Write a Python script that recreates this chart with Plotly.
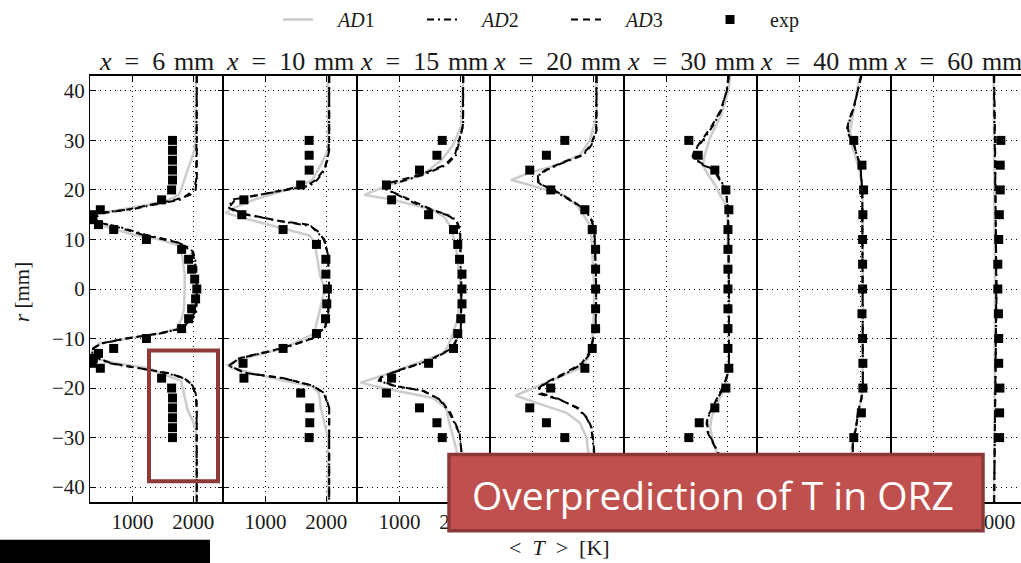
import plotly.graph_objects as go

# ---------------- data ----------------
positions = ["6", "10", "15", "20", "30", "40", "60"]
x_ticks = [1000, 2000]
y_ticks = [-40, -30, -20, -10, 0, 10, 20, 30, 40]

# x = 6 mm
AD1_6_r = [43, 30, 28, 26, 23, 20, 19, 18, 17, 16, 15.3, 14.8, 14, 13, 11, 10, 8.7, 6, 3, 0, -4, -6, -8, -9, -10, -11, -12.5, -14, -15, -16, -17.5, -18.5, -21, -24.5, -26.5, -28.5, -43]
AD1_6_T = [2045, 2040, 2020, 1960, 1880, 1800, 1760, 1600, 1250, 800, 450, 340, 380, 450, 1000, 1450, 1780, 1830, 1860, 1860, 1850, 1810, 1727, 1450, 900, 450, 340, 330, 730, 1280, 1560, 1800, 1850, 1910, 1990, 2045, 2050]
AD2_6_r = [43, 25, 22, 20.5, 19.5, 18.5, 18, 17, 16.1, 15.4, 14.5, 13.5, 12.5, 11, 10, 9.5, 8.5, 7.5, 5, 0, -5, -6, -7, -8, -9, -10, -11, -12, -13.5, -15, -16, -17, -17.8, -18.5, -19.5, -20.5, -22, -43]
AD2_6_T = [2060, 2060, 2050, 2020, 1960, 1850, 1780, 1350, 1000, 450, 380, 420, 800, 1200, 1550, 1730, 1900, 2000, 2050, 2060, 2050, 1990, 1900, 1800, 1450, 900, 500, 340, 340, 620, 1110, 1560, 1800, 1900, 1990, 2030, 2055, 2060]
AD3_6_r = [43, 22, 20, 19, 18, 17, 16, 15.3, 14.5, 13.5, 12.5, 11, 10, 9.5, 8.5, 7, 4, 0, -4, -6, -8, -9, -10, -11, -12, -13.5, -15, -16, -17, -18, -19, -21, -24, -43]
AD3_6_T = [2060, 2060, 2040, 1950, 1700, 1300, 900, 500, 400, 420, 750, 1150, 1500, 1700, 1880, 2000, 2050, 2060, 2050, 1975, 1800, 1420, 880, 480, 350, 350, 650, 1150, 1600, 1850, 1950, 2040, 2060, 2060]
exp_6_r = [30, 28, 26, 24, 22, 20, 18, 16, 15, 14, 13, 12, 10, 8, 6, 4, 2, 0, -2, -4, -6, -8, -10, -12, -13, -14, -15, -16, -18, -20, -22, -24, -26, -28, -30]
exp_6_T = [1660, 1660, 1660, 1660, 1660, 1645, 1480, 470, 340, 330, 440, 690, 1230, 1810, 1925, 1975, 2025, 2060, 2040, 1975, 1925, 1810, 1230, 690, 440, 355, 340, 470, 1480, 1645, 1660, 1660, 1660, 1660, 1660]

# x = 10 mm
AD1_10_r = [43, 28, 25, 22, 21, 20, 18, 16.5, 15.4, 14.4, 13, 12.1, 10.8, 9.4, 6, 2.7, 0, -5, -9, -10.5, -12, -14, -15.3, -16, -17, -18.5, -19.7, -21, -24, -27, -30, -43]
AD1_10_T = [2030, 2030, 1910, 1770, 1600, 1350, 810, 500, 340, 610, 1050, 1290, 1730, 1810, 1860, 1900, 1980, 1880, 1800, 1550, 1290, 650, 380, 450, 800, 1290, 1770, 1880, 1910, 1970, 2030, 2030]
AD2_10_r = [43, 30, 27, 24, 22, 20.8, 18.1, 16.5, 15.3, 13.6, 12.7, 11.2, 10, 7, 0, -6, -8, -10, -12, -14, -15.5, -17, -18, -19.5, -21, -24, -43]
AD2_10_T = [2050, 2050, 2030, 1975, 1850, 1720, 470, 380, 560, 1290, 1750, 1880, 1970, 2030, 2050, 2030, 1970, 1770, 1290, 560, 400, 670, 1290, 1770, 1970, 2050, 2050]
AD3_10_r = [43, 28, 26, 24, 22, 21, 19.5, 18, 16.5, 15.3, 13.7, 13, 11.5, 10, 7, 0, -6, -8, -10, -12, -14, -15.5, -17, -18, -19.5, -21, -24, -43]
AD3_10_T = [2050, 2050, 2020, 1960, 1830, 1700, 1100, 500, 400, 600, 1250, 1700, 1880, 1960, 2030, 2050, 2030, 1960, 1770, 1250, 560, 400, 700, 1300, 1780, 1960, 2050, 2050]
exp_10_r = [30, 27, 24, 21, 18, 15, 12, 9, 6, 3, 0, -3, -6, -9, -12, -15, -18, -21, -24, -27, -30]
exp_10_T = [1720, 1720, 1720, 1580, 645, 610, 1290, 1840, 1995, 1995, 2020, 2010, 1990, 1840, 1290, 630, 645, 1580, 1730, 1730, 1720]

# x = 15 mm
AD1_15_r = [43, 33, 29, 26, 23, 20.8, 19, 18, 16, 14.5, 13, 11, 9, 0, -6, -9, -11.5, -13, -15, -17, -18.9, -20, -22, -24, -27, -32, -36, -43]
AD1_15_T = [2050, 2020, 1880, 1690, 1380, 785, 420, 890, 1550, 1740, 1820, 1880, 1930, 2010, 1960, 1880, 1800, 1720, 1275, 835, 360, 720, 1550, 1770, 1820, 1930, 2000, 2050]
AD2_15_r = [43, 33, 30, 27, 25, 23, 21, 20, 19.5, 17.5, 16, 15, 14, 12, 0, -8.5, -11.9, -14.5, -16.4, -17.9, -18.5, -19.5, -20.5, -22.2, -24.9, -29.2, -35, -43]
AD2_15_T = [2050, 2050, 1990, 1930, 1770, 1380, 830, 790, 890, 1220, 1500, 1770, 1930, 1990, 2020, 2010, 1880, 1500, 1000, 690, 660, 890, 1380, 1650, 1820, 1990, 2040, 2050]
AD3_15_r = [43, 33, 30, 27, 25, 23, 21.3, 20.3, 19.5, 17.5, 16, 15, 13.5, 12, 0, -8.5, -12, -14.5, -16.5, -17.8, -18.6, -19.6, -20.6, -22.4, -25, -29, -35, -43]
AD3_15_T = [2050, 2045, 1980, 1910, 1740, 1330, 800, 760, 900, 1260, 1540, 1790, 1950, 2000, 2020, 2015, 1860, 1470, 960, 700, 690, 940, 1400, 1680, 1840, 1990, 2040, 2050]
exp_15_r = [30, 27, 24, 21, 18, 15, 12, 9, 6, 3, 0, -3, -6, -9, -12, -15, -18, -21, -24, -27, -30]
exp_15_T = [1705, 1617, 1330, 785, 870, 1480, 1890, 1960, 1990, 2030, 2030, 2030, 2010, 1960, 1890, 1480, 870, 785, 1330, 1617, 1705]

# x = 20 mm
AD1_20_r = [43, 35, 30, 27, 25, 23.5, 22, 21, 19, 17, 15, 13, 10.5, 0, -8, -12, -14, -16, -18, -20, -21.5, -23, -25, -27, -30, -33, -37, -43]
AD1_20_T = [2055, 2055, 1945, 1780, 1400, 955, 650, 955, 1505, 1725, 1835, 1945, 1970, 2020, 2000, 1970, 1920, 1780, 1400, 1015, 720, 1070, 1560, 1780, 1890, 1920, 2000, 2040]
AD2_20_r = [43, 32, 29, 27, 25.5, 24, 23, 21.5, 21, 20, 18, 16, 14, 12, 0, -8, -11, -13, -15, -17, -19, -20, -21, -22, -24, -26, -28, -31, -36, -43]
AD2_20_T = [2055, 2055, 1970, 1835, 1505, 1230, 1110, 1100, 1150, 1330, 1610, 1863, 1970, 2020, 2055, 2040, 1985, 1945, 1835, 1560, 1230, 1110, 1120, 1400, 1730, 1890, 1970, 2000, 2040, 2055]
AD3_20_r = [43, 32, 29, 27, 25.5, 24, 22.8, 21.6, 21, 20, 18, 16, 14, 12, 0, -8, -11, -13, -15, -17, -19, -20.2, -21.2, -22.2, -24, -26, -28, -31, -36, -43]
AD3_20_T = [2055, 2050, 1960, 1810, 1480, 1210, 1090, 1090, 1160, 1350, 1630, 1870, 1970, 2020, 2050, 2040, 1980, 1930, 1810, 1530, 1200, 1090, 1110, 1420, 1750, 1900, 1975, 2005, 2040, 2055]
exp_20_r = [30, 27, 24, 20, 16, 12, 8, 4, 0, -4, -8, -12, -16, -20, -24, -27, -30]
exp_20_T = [1533, 1230, 955, 1302, 1863, 1985, 2040, 2040, 2040, 2040, 2040, 1985, 1863, 1300, 955, 1230, 1533]

# x = 30 mm
AD1_30_r = [43, 40, 35, 30.5, 27, 25, 23, 21, 19, 17.5, 15, 0, -16, -20, -22, -24, -26, -28, -31, -33, -36, -40, -43]
AD1_30_T = [2050, 2020, 1900, 1715, 1630, 1600, 1690, 1800, 1880, 1960, 2000, 2030, 2025, 1960, 1880, 1800, 1740, 1720, 1770, 1830, 1900, 2000, 2040]
AD2_30_r = [43, 40, 36, 33, 30, 28, 26.5, 25, 24, 21, 20, 16, 0, -16, -18, -20, -22, -24, -25, -27, -29, -31, -33, -36, -40, -43]
AD2_30_T = [2020, 1990, 1900, 1770, 1600, 1470, 1440, 1600, 1800, 1930, 1980, 2015, 2030, 2030, 1990, 1930, 1850, 1770, 1710, 1670, 1690, 1770, 1850, 1930, 1990, 2020]
AD3_30_r = [43, 40, 36, 33, 30, 28, 26.8, 25.5, 24, 21, 20, 16, 0, -16, -18, -20, -22, -24, -25.5, -27, -29, -31, -33, -36, -40, -43]
AD3_30_T = [2030, 1995, 1890, 1750, 1580, 1460, 1430, 1560, 1780, 1920, 1975, 2015, 2030, 2030, 1985, 1920, 1840, 1760, 1690, 1660, 1680, 1760, 1850, 1940, 2000, 2030]
exp_30_r = [30, 27, 24, 20, 16, 12, 8, 4, 0, -4, -8, -12, -16, -20, -24, -27, -30]
exp_30_T = [1368, 1523, 1797, 1979, 2028, 2013, 2013, 2013, 2013, 2013, 2013, 2013, 2028, 1979, 1797, 1540, 1368]

# x = 40 mm
AD1_40_r = [43, 40, 35, 32, 29, 26, 24, 20, 0, -20, -22, -25, -28, -30, -32, -35, -40, -43]
AD1_40_T = [2000, 1945, 1880, 1835, 1865, 1945, 1990, 2035, 2045, 2040, 2020, 1970, 1930, 1890, 1860, 1870, 1945, 2000]
AD2_40_r = [43, 40, 37, 34, 32.5, 31, 29, 27, 25, 20, 0, -20, -22, -25, -28, -30, -32, -35, -40, -43]
AD2_40_T = [2015, 1960, 1905, 1825, 1795, 1825, 1905, 1945, 2000, 2035, 2045, 2045, 2020, 1960, 1935, 1895, 1880, 1880, 1945, 2010]
AD3_40_r = [43, 40, 37, 34, 32.5, 31, 29, 27, 25, 20, 0, -20, -22, -25, -28, -30, -32, -35, -40, -43]
AD3_40_T = [2020, 1965, 1900, 1815, 1785, 1815, 1900, 1950, 2005, 2035, 2045, 2045, 2025, 1965, 1930, 1890, 1875, 1885, 1950, 2015]
exp_40_r = [30, 25, 20, 15, 10, 5, 0, -5, -10, -15, -20, -25, -30]
exp_40_T = [1895, 2030, 2057, 2045, 2040, 2040, 2040, 2030, 2040, 2045, 2045, 2020, 1895]

# x = 60 mm
AD1_60_r = [43, 20, 0, -20, -43]
AD1_60_T = [1990, 2000, 2015, 2010, 1995]
AD2_60_r = [43, 30, 0, -30, -43]
AD2_60_T = [1995, 2010, 2040, 2010, 2000]
AD3_60_r = [43, 30, 0, -30, -43]
AD3_60_T = [2000, 2015, 2035, 2015, 2000]
exp_60_r = [30, 25, 20, 15, 10, 5, 0, -5, -10, -15, -20, -25, -30]
exp_60_T = [2110, 2100, 2100, 2085, 2075, 2060, 2060, 2070, 2075, 2075, 2095, 2090, 2090]

AD1_r = [AD1_6_r, AD1_10_r, AD1_15_r, AD1_20_r, AD1_30_r, AD1_40_r, AD1_60_r]
AD1_T = [AD1_6_T, AD1_10_T, AD1_15_T, AD1_20_T, AD1_30_T, AD1_40_T, AD1_60_T]
AD2_r = [AD2_6_r, AD2_10_r, AD2_15_r, AD2_20_r, AD2_30_r, AD2_40_r, AD2_60_r]
AD2_T = [AD2_6_T, AD2_10_T, AD2_15_T, AD2_20_T, AD2_30_T, AD2_40_T, AD2_60_T]
AD3_r = [AD3_6_r, AD3_10_r, AD3_15_r, AD3_20_r, AD3_30_r, AD3_40_r, AD3_60_r]
AD3_T = [AD3_6_T, AD3_10_T, AD3_15_T, AD3_20_T, AD3_30_T, AD3_40_T, AD3_60_T]
exp_r = [exp_6_r, exp_10_r, exp_15_r, exp_20_r, exp_30_r, exp_40_r, exp_60_r]
exp_T = [exp_6_T, exp_10_T, exp_15_T, exp_20_T, exp_30_T, exp_40_T, exp_60_T]

# ---------------- layout geometry ----------------
W, H = 1021, 563
ML, MT, MB, MR = 90, 72, 61, 0
PW = W - ML - MR          # plot width in px
PH = H - MT - MB          # plot height in px
PANEL = 133.5             # px per 2200 K panel
EDGES = [90, 223, 357, 490, 624, 757, 891, 1021]   # panel borders in px
T_MIN, T_MAX = 300, 2500

SERIF = "Liberation Serif, Times New Roman, serif"
TXT = "#1a1a1a"


def px(x):
    return (x - ML) / PW


def py(y):
    return (H - MB - y) / PH


fig = go.Figure()

for i, pos in enumerate(positions):
    sfx = "" if i == 0 else str(i + 1)
    xa, ya = "x" + sfx, "y" + sfx
    leg = i == 0
    fig.add_trace(go.Scatter(x=AD1_T[i], y=AD1_r[i], xaxis=xa, yaxis=ya, mode="lines",
                             line=dict(color="#cccccc", width=2.5),
                             name="\u2003<i>AD</i>1", legendgroup="AD1", showlegend=leg))
    fig.add_trace(go.Scatter(x=AD2_T[i], y=AD2_r[i], xaxis=xa, yaxis=ya, mode="lines",
                             line=dict(color="black", width=2, dash="7px,4px,2px,4px"),
                             name="\u2003<i>AD</i>2", legendgroup="AD2", showlegend=leg))
    fig.add_trace(go.Scatter(x=AD3_T[i], y=AD3_r[i], xaxis=xa, yaxis=ya, mode="lines",
                             line=dict(color="black", width=2, dash="7px,5px"),
                             name="\u2003<i>AD</i>3", legendgroup="AD3", showlegend=leg))
    fig.add_trace(go.Scatter(x=exp_T[i], y=exp_r[i], xaxis=xa, yaxis=ya, mode="markers",
                             marker=dict(symbol="square", color="black", size=9),
                             name="\u2003exp", legendgroup="exp", showlegend=leg))

    d0 = px(EDGES[i])
    d1 = px(EDGES[i + 1])
    t_hi = T_MIN + (EDGES[i + 1] - EDGES[i]) / PANEL * (T_MAX - T_MIN)
    axis_common = dict(showline=True, linecolor="black",
                       ticks="inside", ticklen=5, tickcolor="black", tickwidth=1,
                       showgrid=True, gridcolor="black", gridwidth=1, griddash="1px,4px",
                       zeroline=False,
                       tickfont=dict(family=SERIF, size=21, color=TXT))
    fig.layout["xaxis" + sfx] = dict(axis_common, linewidth=2, domain=[d0, d1], anchor=ya,
                                     range=[T_MIN, t_hi], tickvals=x_ticks,
                                     mirror="ticks")
    fig.layout["yaxis" + sfx] = dict(axis_common, linewidth=1, domain=[0, 1], anchor=xa,
                                     range=[-43, 43], tickvals=y_ticks,
                                     showticklabels=(i == 0),
                                     mirror=("ticks" if i < len(positions) - 1 else False))
    if i > 0:
        fig.layout["yaxis" + sfx]["matches"] = "y"

    # panel title
    cx = EDGES[i] + PANEL / 2
    fig.add_annotation(xref="paper", yref="paper", x=px(cx), y=py(57),
                       text="<i>x</i>\u2002=\u2002" + pos + "\u2004mm",
                       showarrow=False, xanchor="center", yanchor="middle",
                       font=dict(family=SERIF, size=26, color=TXT))

# axis labels
fig.add_annotation(xref="paper", yref="paper", x=px(22), y=py(290), text="<i>r</i> [mm]",
                   textangle=-90, showarrow=False, xanchor="center", yanchor="middle",
                   font=dict(family=SERIF, size=21, color=TXT))
fig.add_annotation(xref="paper", yref="paper", x=px(559), y=py(548),
                   text="&lt;\u2002<i>T</i>\u2002&gt;\u2002[K]",
                   showarrow=False, xanchor="center", yanchor="middle",
                   font=dict(family=SERIF, size=22, color=TXT))

# overlays
fig.add_shape(type="rect", xref="paper", yref="paper", x0=px(149), x1=px(218), y0=py(349), y1=py(481),
              line=dict(color="#8E3A37", width=4), fillcolor="rgba(0,0,0,0)", layer="above")
fig.add_shape(type="rect", xref="paper", yref="paper", x0=px(449), x1=px(983), y0=py(454), y1=py(531),
              line=dict(color="#8C3836", width=3.5), fillcolor="#C0504D", layer="above")
fig.add_annotation(xref="paper", yref="paper", x=px(713), y=py(494),
                   text="Overprediction of T in ORZ", showarrow=False,
                   xanchor="center", yanchor="middle",
                   font=dict(family="Open Sans, Noto Sans, sans-serif", size=39, color="white"))
fig.add_shape(type="rect", xref="paper", yref="paper", x0=px(-5), x1=px(210), y0=py(540), y1=py(570),
              line=dict(width=0), fillcolor="black", layer="above")

fig.update_layout(
    width=W, height=H,
    margin=dict(l=ML, r=MR, t=MT, b=MB),
    paper_bgcolor="white", plot_bgcolor="white",
    showlegend=True,
    legend=dict(orientation="h", x=px(278), y=py(15), xanchor="left", yanchor="middle",
                font=dict(family=SERIF, size=20, color=TXT),
                entrywidth=99, bgcolor="rgba(0,0,0,0)"),
)

fig.write_html("out.html", config={"displayModeBar": False},
               post_script="document.body.style.margin='0px';document.body.style.overflow='hidden';")
